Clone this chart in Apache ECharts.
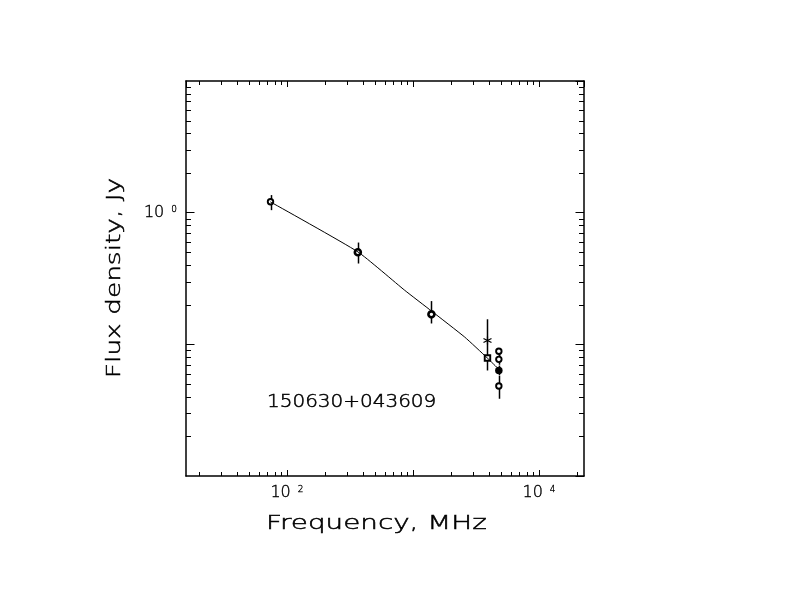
<!DOCTYPE html>
<html>
<head>
<meta charset="utf-8">
<title>150630+043609</title>
<script src="https://cdn.jsdelivr.net/npm/echarts@6/dist/echarts.min.js"></script>
<style>
html, body { margin: 0; padding: 0; background: #fff; }
#container0 { width: 792px; height: 612px; }
</style>
</head>
<body>
<div id="container0"></div>
<script>
var X_MIN = 15.8, X_MAX = 22750;
var Y_MIN = 0.01, Y_MAX = 10;
var FONT = 'DejaVu Sans';

// measured points: frequency (MHz), flux (Jy), error bar ends, marker kind
var pointFreq = [74, 365, 1400, 3900, 3900, 4800, 4800, 4800, 4800];
var pointFlux = [1.21, 0.50, 0.169, 0.107, 0.0787, 0.0885, 0.0769, 0.0633, 0.0482];
var pointLow  = [1.045, 0.411, 0.144, 0.0633, 0.0787, 0.0805, 0.0700, 0.0580, 0.0386];
var pointHigh = [1.36, 0.593, 0.213, 0.155, 0.0787, 0.0937, 0.0835, 0.0690, 0.0575];
var pointMark = ['circle', 'ring', 'ring', 'star', 'square', 'circle', 'circle', 'dot', 'circle'];

// fitted spectrum
var fitFreq = [73.8, 366, 859, 1400, 2570, 3880, 4745];
var fitFlux = [1.208, 0.503, 0.2574, 0.1792, 0.1136, 0.0789, 0.0653];

// ticks
var xLabeled = [100, 10000];
var yLabeled = [1];
var xMinor = [20, 30, 40, 50, 60, 70, 80, 90,
              200, 300, 400, 500, 600, 700, 800, 900,
              2000, 3000, 4000, 5000, 6000, 7000, 8000, 9000, 20000];
var yMinor = [0.02, 0.03, 0.04, 0.05, 0.06, 0.07, 0.08, 0.09,
              0.2, 0.3, 0.4, 0.5, 0.6, 0.7, 0.8, 0.9,
              2, 3, 4, 5, 6, 7, 8, 9];

function powLabel(v, list) {
    var lg = Math.log(v) / Math.LN10;
    var p = Math.round(lg);
    if (Math.abs(lg - p) > 1e-6 || list.indexOf(Math.pow(10, p)) < 0) return '';
    return '{b|10}{s|' + p + '}';
}

var labelRich = {
    b: { fontSize: 16, fontFamily: FONT, fontWeight: 200, color: '#000', lineHeight: 16,
         textBorderColor: '#000', textBorderWidth: 0.4 },
    s: { fontSize: 9, fontFamily: FONT, fontWeight: 200, color: '#000', lineHeight: 9,
         textBorderColor: '#000', textBorderWidth: 0.3,
         verticalAlign: 'top', padding: [0, 0, 0, 7] }
};

function points(kind) {
    var out = [];
    for (var i = 0; i < pointFreq.length; i++) {
        if (pointMark[i] === kind) out.push([pointFreq[i], pointFlux[i]]);
    }
    return out;
}

var errData = [];
for (var i = 0; i < pointFreq.length; i++) {
    if (pointHigh[i] > pointLow[i]) errData.push([pointFreq[i], pointLow[i], pointHigh[i]]);
}

function crisp(v) { return Math.round(v) + 0.5; }

function xAxisOpt(pos, labels) {
    return {
        type: 'log', logBase: 10, min: X_MIN, max: X_MAX, position: pos,
        axisLine: { show: true, lineStyle: { color: '#000', width: 1.5 } },
        axisTick: { show: true, inside: true, length: 6, lineStyle: { color: '#000', width: 1 } },
        axisLabel: labels ? {
            show: true, margin: 9, showMinLabel: false, showMaxLabel: false,
            formatter: function (v) { return powLabel(v, xLabeled); }, rich: labelRich
        } : { show: false },
        splitLine: { show: false }
    };
}

function yAxisOpt(pos, labels) {
    return {
        type: 'log', logBase: 10, min: Y_MIN, max: Y_MAX, position: pos,
        axisLine: { show: true, lineStyle: { color: '#000', width: 1.5 } },
        axisTick: { show: true, inside: true, length: 8.5, lineStyle: { color: '#000', width: 1 } },
        axisLabel: labels ? {
            show: true, margin: 9, showMinLabel: false, showMaxLabel: false,
            formatter: function (v) { return powLabel(v, yLabeled); }, rich: labelRich
        } : { show: false },
        splitLine: { show: false }
    };
}

var textStyle = { fontFamily: FONT, fontWeight: 200, fill: '#000', stroke: '#000', lineWidth: 0.5 };

var opt_chart_0 = {
    animation: false,
    backgroundColor: '#fff',
    grid: { left: 186, right: 208, top: 81, bottom: 136 },
    xAxis: [xAxisOpt('bottom', true), xAxisOpt('top', false)],
    yAxis: [yAxisOpt('left', true), yAxisOpt('right', false)],
    graphic: {
        elements: [
            {
                type: 'text', x: 266, y: 524, scaleX: 1.39, silent: true,
                style: echarts.util.extend({ text: 'Frequency, MHz', fontSize: 20,
                         textAlign: 'left', textVerticalAlign: 'middle' }, textStyle)
            },
            {
                type: 'text', x: 115, y: 278, rotation: Math.PI / 2, scaleX: 1.32, silent: true,
                style: echarts.util.extend({ text: 'Flux density, Jy', fontSize: 20,
                         textAlign: 'center', textVerticalAlign: 'middle' }, textStyle)
            },
            {
                type: 'text', x: 267, y: 402, scaleX: 1.11, silent: true,
                style: echarts.util.extend({ text: '150630+043609', fontSize: 18,
                         textAlign: 'left', textVerticalAlign: 'middle' }, textStyle)
            }
        ]
    },
    series: [
        // minor ticks on bottom and top
        {
            type: 'custom', silent: true, clip: false,
            data: xMinor.map(function (v) { return [v, Y_MIN]; }),
            renderItem: function (params, api) {
                var v = api.value(0);
                var b = api.coord([v, Y_MIN]);
                var t = api.coord([v, Y_MAX]);
                var x = crisp(b[0]);
                return { type: 'group', children: [
                    { type: 'line', shape: { x1: x, y1: b[1], x2: x, y2: b[1] - 4 }, style: { stroke: '#000', lineWidth: 1 } },
                    { type: 'line', shape: { x1: x, y1: t[1], x2: x, y2: t[1] + 4 }, style: { stroke: '#000', lineWidth: 1 } }
                ] };
            }
        },
        // minor ticks on left and right
        {
            type: 'custom', silent: true, clip: false,
            data: yMinor.map(function (v) { return [X_MIN, v]; }),
            renderItem: function (params, api) {
                var v = api.value(1);
                var l = api.coord([X_MIN, v]);
                var r = api.coord([X_MAX, v]);
                var y = crisp(l[1]);
                return { type: 'group', children: [
                    { type: 'line', shape: { x1: l[0], y1: y, x2: l[0] + 5, y2: y }, style: { stroke: '#000', lineWidth: 1 } },
                    { type: 'line', shape: { x1: r[0], y1: y, x2: r[0] - 5, y2: y }, style: { stroke: '#000', lineWidth: 1 } }
                ] };
            }
        },
        {
            name: 'fit', type: 'line', silent: true,
            data: fitFreq.map(function (f, i) { return [f, fitFlux[i]]; }),
            showSymbol: false, symbol: 'none', smooth: 0.15,
            lineStyle: { color: '#000', width: 1 }
        },
        {
            name: 'errors', type: 'custom', silent: true,
            data: errData,
            renderItem: function (params, api) {
                var lo = api.coord([api.value(0), api.value(1)]);
                var hi = api.coord([api.value(0), api.value(2)]);
                var x = crisp(lo[0]);
                return { type: 'line', shape: { x1: x, y1: lo[1], x2: x, y2: hi[1] },
                         style: { stroke: '#000', lineWidth: 1.5 } };
            }
        },
        {
            type: 'scatter', silent: true, data: points('circle'),
            symbol: 'circle', symbolSize: 5.5,
            itemStyle: { color: '#fff', borderColor: '#000', borderWidth: 1.9, opacity: 1 }
        },
        {
            type: 'scatter', silent: true, data: points('ring'),
            symbol: 'circle', symbolSize: 6,
            itemStyle: { color: '#fff', borderColor: '#000', borderWidth: 2.6, opacity: 1 }
        },
        {
            type: 'scatter', silent: true, data: points('dot'),
            symbol: 'circle', symbolSize: 7.5,
            itemStyle: { color: '#000', opacity: 1 }
        },
        {
            type: 'scatter', silent: true, data: points('square'),
            symbol: 'rect', symbolSize: 5.5,
            itemStyle: { color: '#fff', borderColor: '#000', borderWidth: 1.9, opacity: 1 }
        },
        {
            type: 'scatter', silent: true, data: points('star'),
            symbol: 'path://M5,0L5,10M0.7,2.5L9.3,7.5M0.7,7.5L9.3,2.5', symbolSize: 8,
            itemStyle: { color: 'none', borderColor: '#000', borderWidth: 1.2, opacity: 1 }
        }
    ]
};

var chart_0 = echarts.init(document.getElementById('container0'));
chart_0.setOption(opt_chart_0);
</script>
</body>
</html>
